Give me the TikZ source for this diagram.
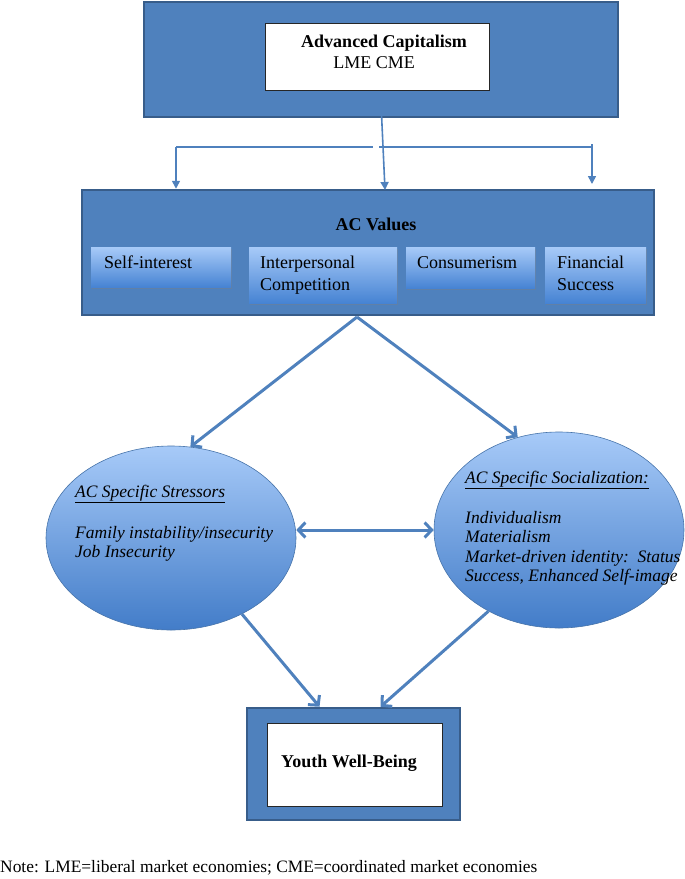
\documentclass[tikz,border=0pt]{standalone}
\usepackage{fontspec}
\setmainfont{Liberation Serif}
\usetikzlibrary{arrows.meta,shapes.geometric,shadows}
\definecolor{acblue}{HTML}{4F81BD}
\definecolor{acedge}{HTML}{385D8A}
\definecolor{aclight}{HTML}{A7CAF8}
\definecolor{acdeep}{HTML}{4683D3}
\begin{document}
\begin{tikzpicture}[x=1pt,y=-1pt,
  every node/.style={font=\fontsize{18}{22}\selectfont},
  outerbox/.style={draw=acedge,line width=2.5pt,fill=acblue,inner sep=0pt},
  whitebox/.style={draw=black!85,line width=0.8pt,fill=white,inner sep=0pt},
  valbox/.style={top color=aclight,bottom color=acdeep,inner sep=0pt,anchor=north west,
    drop shadow={shadow xshift=1pt,shadow yshift=-2pt,opacity=0.35}},
  valtext/.style={anchor=base west,align=left,inner sep=0pt},
  ovalbox/.style={ellipse,draw=acblue!90!black,line width=0.6pt,top color=aclight,bottom color=acdeep!95!black,inner sep=0pt},
  ovaltext/.style={font=\fontsize{17.5}{19.5}\selectfont\itshape,align=left,anchor=base west,inner sep=0pt},
  thinarrow/.style={draw=acblue,line width=1.6pt,-{Triangle[length=8pt,width=8pt]}},
  bigarrow/.style={draw=acblue,line width=3pt,-{Straight Barb[length=7pt,width=15pt]}}]
\useasboundingbox (0,0) rectangle (685,879);
% top: advanced capitalism
\node[outerbox,minimum width=474pt,minimum height=115pt] (capbox) at (381,59.5) {};
\node[whitebox,minimum width=224pt,minimum height=67pt] (cap) at (377,56.5) {};
\node[anchor=base,font=\fontsize{18}{22}\selectfont\bfseries] (cap-t) at (384,47) {Advanced Capitalism};
\node[anchor=base] (cap-s) at (374,68) {LME CME};
% AC values with the four value boxes
\node[outerbox,minimum width=572pt,minimum height=125pt] (values) at (368,252.5) {};
\node[anchor=base,font=\fontsize{18}{22}\selectfont\bfseries] (values-t) at (376,230) {AC Values};
\node[valbox,minimum width=140pt,minimum height=40pt] (selfint) at (91,247) {};
\node[valbox,minimum width=148pt,minimum height=56pt] (interp) at (249,247) {};
\node[valbox,minimum width=129pt,minimum height=41pt] (consum) at (406,247) {};
\node[valbox,minimum width=101pt,minimum height=56pt] (finsucc) at (545,247) {};
% base of a multi-line node is its last line
\node[valtext] (selfint-t) at (104,268) {Self-interest};
\node[valtext] (interp-t) at (260,290) {Interpersonal\\Competition};
\node[valtext] (consum-t) at (417,268) {Consumerism};
\node[valtext] (finsucc-t) at (557,290) {Financial\\Success};
% split arrows from capitalism to values
\coordinate (capfoot) at (381,103);
\coordinate (valtop) at (385,190);
\coordinate (hl) at (176,147);
\coordinate (gapl) at (373,147);
\coordinate (gapr) at (379,147);
\coordinate (hr) at (592,147);
\coordinate (rtip) at (592,184);
\draw[acblue,line width=1.6pt] (hl) -- (gapl) (gapr) -- (hr);
\draw[thinarrow] (capfoot) -- (valtop);
\draw[thinarrow] (hl) -- (hl |- values.north);
\draw[thinarrow] ([yshift=3pt]hr) -- (rtip);
% stressors and socialization
\node[ovalbox,minimum width=250pt,minimum height=184pt] (stress) at (171,538) {};
\node[ovalbox,minimum width=250pt,minimum height=196pt] (social) at (559,530) {};
\node[ovaltext] (stress-h) at (75,497) {\underline{AC Specific Stressors}};
\node[ovaltext] (stress-t) at (75,557.5) {Family instability/insecurity\\Job Insecurity};
\node[ovaltext] (social-h) at (465,483) {\underline{AC Specific Socialization:}};
\node[ovaltext] (social-t) at (465,581.5) {Individualism\\Materialism\\Market-driven identity:\ \ Status\\Success, Enhanced Self-image};
\coordinate (vsplit) at (357,317);
\draw[bigarrow] (vsplit) -- (stress.78);
\draw[bigarrow] (vsplit) -- (social.114);
\draw[bigarrow,{Straight Barb[length=7pt,width=15pt]}-{Straight Barb[length=7pt,width=15pt]}] (stress.east |- social.west) -- (social.west);
% youth well-being
\node[outerbox,minimum width=213pt,minimum height=112pt] (youthbox) at (353.5,764) {};
\node[whitebox,minimum width=175pt,minimum height=83pt] (youth) at (354.5,764.5) {};
\node[anchor=base,font=\fontsize{18}{22}\selectfont\bfseries] (youth-t) at (349,767) {Youth Well-Being};
\draw[bigarrow] (stress.313) -- ([xshift=-34pt]youthbox.north);
\draw[bigarrow] (social.229) -- ([xshift=27pt]youthbox.north);
% note
\node[anchor=base west,inner sep=0pt,font=\fontsize{17.4}{20}\selectfont] (note) at (0,872) {Note: LME=liberal market economies; CME=coordinated market economies};
\end{tikzpicture}
\end{document}
